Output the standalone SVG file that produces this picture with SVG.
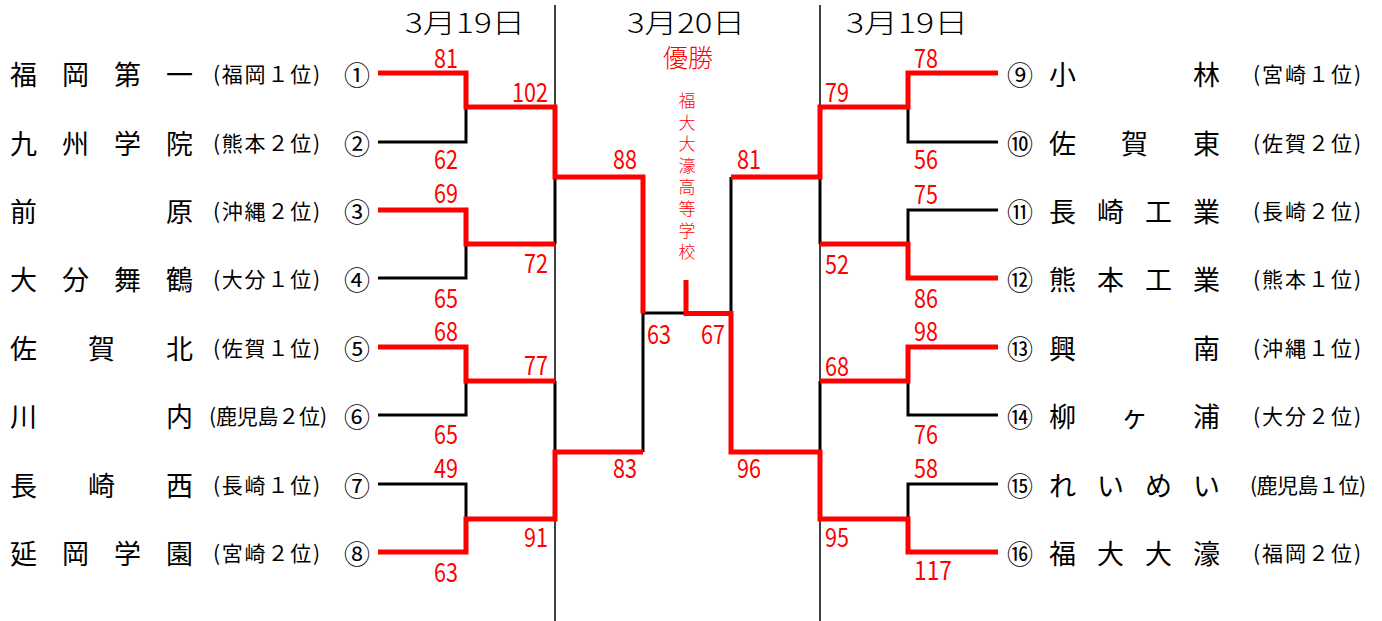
<svg xmlns="http://www.w3.org/2000/svg" width="1382" height="621" viewBox="0 0 1382 621">
<style>
text{font-family:"Noto Sans CJK JP","Noto Sans CJK SC",sans-serif;dominant-baseline:central;}
.name{font-size:27px;fill:#000;}
.rank{font-size:21px;fill:#000;}
.num{font-size:26px;fill:#000;text-anchor:middle;}
.hdr{font-size:27px;fill:#000;text-anchor:middle;font-weight:300;}
.sc{font-family:"Liberation Sans Narrow","Liberation Sans",Arial,sans-serif;font-size:26px;fill:#ff0000;}
.m{text-anchor:middle;}
.e{text-anchor:end;}
.red{fill:#ff0000;}
.win{font-size:25px;font-weight:300;}
.vt{font-size:17px;fill:#ff0000;writing-mode:vertical-rl;letter-spacing:4.6px;font-weight:300;}
.blk{fill:none;stroke:#000;stroke-width:3;stroke-linejoin:miter;}
.rd{fill:none;stroke:#ff0000;stroke-width:5;stroke-linejoin:miter;}
.div{stroke:#000;stroke-width:1.5;}
</style>
<rect width="1382" height="621" fill="#fff"/>
<g id="headers">
<text class="hdr" x="465" y="21" textLength="120" lengthAdjust="spacingAndGlyphs">3月19日</text>
<text class="hdr" x="686" y="21" textLength="118" lengthAdjust="spacingAndGlyphs">3月20日</text>
<text class="hdr" x="907" y="21" textLength="122" lengthAdjust="spacingAndGlyphs">3月19日</text>
<text class="red m win" x="688" y="56">優勝</text>
<text class="vt" x="687" y="92">福大大濠高等学校</text>
</g>
<g id="dividers">
<line class="div" x1="555" y1="5" x2="555" y2="621"/>
<line class="div" x1="820" y1="5" x2="820" y2="621"/>
</g>
<g id="team1"><text class="name" x="10 62 114 166" y="73">福岡第一</text><text class="rank" x="213" y="73" textLength="107" lengthAdjust="spacing">(福岡１位)</text><text class="num" x="357" y="73">①</text></g>
<g id="team2"><text class="name" x="10 62 114 166" y="142">九州学院</text><text class="rank" x="213" y="142" textLength="107" lengthAdjust="spacing">(熊本２位)</text><text class="num" x="357" y="142">②</text></g>
<g id="team3"><text class="name" x="10 166" y="210">前原</text><text class="rank" x="213" y="210" textLength="107" lengthAdjust="spacing">(沖縄２位)</text><text class="num" x="357" y="210">③</text></g>
<g id="team4"><text class="name" x="10 62 114 166" y="278">大分舞鶴</text><text class="rank" x="213" y="278" textLength="107" lengthAdjust="spacing">(大分１位)</text><text class="num" x="357" y="278">④</text></g>
<g id="team5"><text class="name" x="10 88 166" y="347">佐賀北</text><text class="rank" x="213" y="347" textLength="107" lengthAdjust="spacing">(佐賀１位)</text><text class="num" x="357" y="347">⑤</text></g>
<g id="team6"><text class="name" x="10 166" y="415">川内</text><text class="rank" x="209" y="415" textLength="118" lengthAdjust="spacing">(鹿児島２位)</text><text class="num" x="357" y="415">⑥</text></g>
<g id="team7"><text class="name" x="10 88 166" y="484">長崎西</text><text class="rank" x="213" y="484" textLength="107" lengthAdjust="spacing">(長崎１位)</text><text class="num" x="357" y="484">⑦</text></g>
<g id="team8"><text class="name" x="10 62 114 166" y="552">延岡学園</text><text class="rank" x="213" y="552" textLength="107" lengthAdjust="spacing">(宮崎２位)</text><text class="num" x="357" y="552">⑧</text></g>
<g id="team9"><text class="num" x="1020" y="73">⑨</text><text class="name" x="1049 1193" y="73">小林</text><text class="rank" x="1253" y="73" textLength="108" lengthAdjust="spacing">(宮崎１位)</text></g>
<g id="team10"><text class="num" x="1020" y="142">⑩</text><text class="name" x="1049 1121 1193" y="142">佐賀東</text><text class="rank" x="1253" y="142" textLength="108" lengthAdjust="spacing">(佐賀２位)</text></g>
<g id="team11"><text class="num" x="1020" y="210">⑪</text><text class="name" x="1049 1097 1145 1193" y="210">長崎工業</text><text class="rank" x="1253" y="210" textLength="108" lengthAdjust="spacing">(長崎２位)</text></g>
<g id="team12"><text class="num" x="1020" y="278">⑫</text><text class="name" x="1049 1097 1145 1193" y="278">熊本工業</text><text class="rank" x="1253" y="278" textLength="108" lengthAdjust="spacing">(熊本１位)</text></g>
<g id="team13"><text class="num" x="1020" y="347">⑬</text><text class="name" x="1049 1193" y="347">興南</text><text class="rank" x="1253" y="347" textLength="108" lengthAdjust="spacing">(沖縄１位)</text></g>
<g id="team14"><text class="num" x="1020" y="415">⑭</text><text class="name" x="1049 1121 1193" y="415">柳ヶ浦</text><text class="rank" x="1253" y="415" textLength="108" lengthAdjust="spacing">(大分２位)</text></g>
<g id="team15"><text class="num" x="1020" y="484">⑮</text><text class="name" x="1049 1097 1145 1193" y="484">れいめい</text><text class="rank" x="1250" y="484" textLength="116" lengthAdjust="spacing">(鹿児島１位)</text></g>
<g id="team16"><text class="num" x="1020" y="552">⑯</text><text class="name" x="1049 1097 1145 1193" y="552">福大大濠</text><text class="rank" x="1253" y="552" textLength="108" lengthAdjust="spacing">(福岡２位)</text></g>
<g id="connectors">
<path class="blk" d="M378 142H466V107M378 278H466V244M378 415H466V381M378 484H466V519M555 177V244M555 381V452M643 452V313H686"/>
<path class="blk" d="M998 142H908V107M998 210H908V244M998 415H908V381M998 484H908V519M820 177V244M820 381V452M731 177V313"/>
<path class="rd" d="M378 73H466V107H555V177H643V313.5"/>
<path class="rd" d="M378 210H466V244H555"/>
<path class="rd" d="M378 347H466V381H555"/>
<path class="rd" d="M378 552H466V519H555V452H643"/>
<path class="rd" d="M998 73H908V107H820V177H731"/>
<path class="rd" d="M998 278H908V244H820"/>
<path class="rd" d="M998 347H908V381H820"/>
<path class="rd" d="M998 552H908V519H820V452H731V313.5H686V280"/>
</g>
<g id="scores">
<g class="sc m">
<text x="446" y="56" textLength="24" lengthAdjust="spacingAndGlyphs">81</text><text x="446" y="157" textLength="24" lengthAdjust="spacingAndGlyphs">62</text><text x="446" y="191" textLength="24" lengthAdjust="spacingAndGlyphs">69</text><text x="446" y="296" textLength="24" lengthAdjust="spacingAndGlyphs">65</text>
<text x="446" y="329" textLength="24" lengthAdjust="spacingAndGlyphs">68</text><text x="446" y="432" textLength="24" lengthAdjust="spacingAndGlyphs">65</text><text x="446" y="466" textLength="24" lengthAdjust="spacingAndGlyphs">49</text><text x="446" y="570" textLength="24" lengthAdjust="spacingAndGlyphs">63</text>
</g>
<g class="sc e">
<text x="548" y="90" textLength="36" lengthAdjust="spacingAndGlyphs">102</text><text x="548" y="261" textLength="24" lengthAdjust="spacingAndGlyphs">72</text><text x="548" y="363" textLength="24" lengthAdjust="spacingAndGlyphs">77</text><text x="548" y="535" textLength="24" lengthAdjust="spacingAndGlyphs">91</text>
<text x="637" y="157" textLength="24" lengthAdjust="spacingAndGlyphs">88</text><text x="637" y="466" textLength="24" lengthAdjust="spacingAndGlyphs">83</text><text x="725" y="332" textLength="24" lengthAdjust="spacingAndGlyphs">67</text>
</g>
<g class="sc">
<text x="647" y="332" textLength="24" lengthAdjust="spacingAndGlyphs">63</text>
<text x="737" y="157" textLength="24" lengthAdjust="spacingAndGlyphs">81</text><text x="737" y="466" textLength="24" lengthAdjust="spacingAndGlyphs">96</text>
<text x="825" y="90" textLength="24" lengthAdjust="spacingAndGlyphs">79</text><text x="825" y="262" textLength="24" lengthAdjust="spacingAndGlyphs">52</text><text x="825" y="364" textLength="24" lengthAdjust="spacingAndGlyphs">68</text><text x="825" y="535" textLength="24" lengthAdjust="spacingAndGlyphs">95</text>
<text x="914" y="56" textLength="24" lengthAdjust="spacingAndGlyphs">78</text><text x="914" y="157" textLength="24" lengthAdjust="spacingAndGlyphs">56</text><text x="914" y="192" textLength="24" lengthAdjust="spacingAndGlyphs">75</text><text x="914" y="296" textLength="24" lengthAdjust="spacingAndGlyphs">86</text>
<text x="914" y="329" textLength="24" lengthAdjust="spacingAndGlyphs">98</text><text x="914" y="432" textLength="24" lengthAdjust="spacingAndGlyphs">76</text><text x="914" y="466" textLength="24" lengthAdjust="spacingAndGlyphs">58</text><text x="914" y="568" textLength="38" lengthAdjust="spacingAndGlyphs">117</text>
</g>
</g>
</svg>
